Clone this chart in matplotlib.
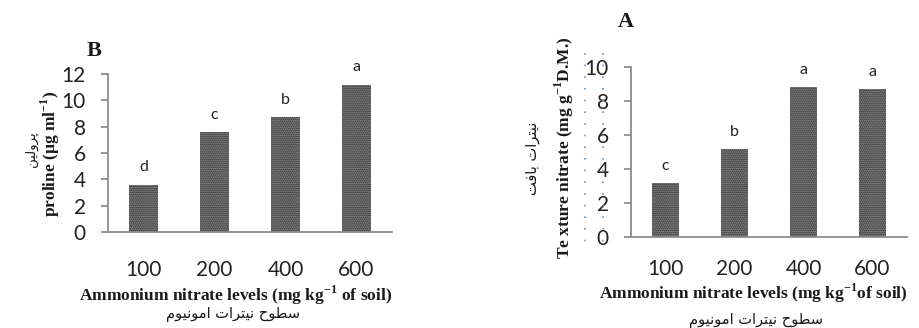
import numpy as np
import matplotlib.pyplot as plt

plt.rcParams['mathtext.fontset'] = 'custom'
plt.rcParams['mathtext.rm'] = 'Liberation Serif:bold'
plt.rcParams['mathtext.bf'] = 'Liberation Serif:bold'
plt.rcParams['hatch.linewidth'] = 0.9

# Ammonium nitrate levels (mg kg-1 of soil)
levels = ['100', '200', '400', '600']

# B: proline content and Duncan groups
proline = [3.6, 7.6, 8.7, 11.2]
proline_groups = ['d', 'c', 'b', 'a']

# A: tissue nitrate content and Duncan groups
nitrate = [3.15, 5.15, 8.8, 8.7]
nitrate_groups = ['c', 'b', 'a', 'a']

# Persian captions, written in shaped (presentation) forms in display order
fa_levels = '\uFEE1\uFEEE\uFEF4\uFEE7\uFEEE\uFEE3\uFE8D \uFE95\uFE8D\uFEAE\uFE98\uFEF4\uFEE7 \uFEA1\uFEEE\uFEC4\uFEB3'
fa_proline = '\uFEE6\uFEF4\uFEDF\uFEED\uFEAE\uFB58'
fa_nitrate = '\uFE96\uFED3\uFE8E\uFE91 \uFE95\uFE8D\uFEAE\uFE98\uFEF4\uFEE7'

W, H = 920, 328
fig = plt.figure(figsize=(W / 100, H / 100), dpi=100)


def px(x, y):
    return x / W, 1 - y / H


def bar_panel(ax, values, groups, ymax, step, xpad):
    x = np.arange(len(levels))
    ax.bar(x, values, width=0.4, color='#3a3a3a', edgecolor='#9a9a9a',
           linewidth=0, hatch='........')
    for xi, v, g in zip(x, values, groups):
        ax.annotate(g, (xi, v), xytext=(0, 9.5), textcoords='offset points',
                    ha='center', va='baseline', fontsize=11.5, family='Lato',
                    color='#222222')
    ax.set_xlim(-0.5, len(levels) - 0.5)
    ax.set_ylim(0, ymax)
    ax.set_yticks(np.arange(0, ymax + 0.1, step))
    ax.set_xticks(x)
    ax.set_xticklabels(levels)
    for s in ['top', 'right']:
        ax.spines[s].set_visible(False)
    for s in ['left', 'bottom']:
        ax.spines[s].set_color('#8c8c8c')
        ax.spines[s].set_linewidth(1.3)
    ax.tick_params(axis='y', direction='out', length=5, width=1.3,
                   color='#8c8c8c', pad=11, labelsize=15,
                   labelcolor='#222222')
    ax.tick_params(axis='x', length=0, pad=xpad, labelsize=15,
                   labelcolor='#222222')
    for lab in ax.get_xticklabels() + ax.get_yticklabels():
        lab.set_family('Lato')


# panel B
axB = fig.add_axes([108 / W, 1 - 232 / H, 284 / W, 158 / H])
bar_panel(axB, proline, proline_groups, 12, 2, 20)

# panel A
axA = fig.add_axes([631 / W, 1 - 237 / H, 276 / W, 170.3 / H])
bar_panel(axA, nitrate, nitrate_groups, 10, 2, 15.5)

serif = dict(family='Liberation Serif', weight='bold', color='#1a1a1a')
arabic = dict(family='DejaVu Sans', color='#1a1a1a')

fig.text(*px(94, 51), 'B', fontsize=16, ha='center', va='center', **serif)
fig.text(*px(626, 22), 'A', fontsize=16, ha='center', va='center', **serif)

# x axis captions
fig.text(*px(236, 295), r'Ammonium nitrate levels (mg kg$^{-1}$ of soil)',
         fontsize=12.5, ha='center', va='center', **serif)
fig.text(*px(233, 315), fa_levels, fontsize=10.5, ha='center', va='center',
         **arabic)
fig.text(*px(753, 293), r'Ammonium nitrate levels (mg kg$^{-1}$of soil)',
         fontsize=12.5, ha='center', va='center', **serif)
fig.text(*px(756, 320), fa_levels, fontsize=10.5, ha='center', va='center',
         **arabic)

# y axis captions
fig.text(*px(50, 154), 'proline (\u00b5g ml$^{-1}$)', fontsize=12.5,
         rotation=90, ha='center', va='center', **serif)
fig.text(*px(31, 149), fa_proline, fontsize=9.5, rotation=90, ha='center',
         va='center', **arabic)
fig.text(*px(564, 148), r'Te xture nitrate (mg g$^{-1}$D.M.)', fontsize=12.5,
         rotation=90, ha='center', va='center', **serif)
fig.text(*px(533, 158), fa_nitrate, fontsize=10.5, rotation=90, ha='center',
         va='center', **arabic)

# dotted text-box outline around the A tick labels
for xx in (585, 603):
    fig.add_artist(plt.Line2D([xx / W, xx / W], [1 - 53 / H, 1 - 250 / H],
                              transform=fig.transFigure, color='#5b9bd5',
                              linewidth=1.2, linestyle=(0, (1, 6))))

fig.savefig('out.png', dpi=100)
